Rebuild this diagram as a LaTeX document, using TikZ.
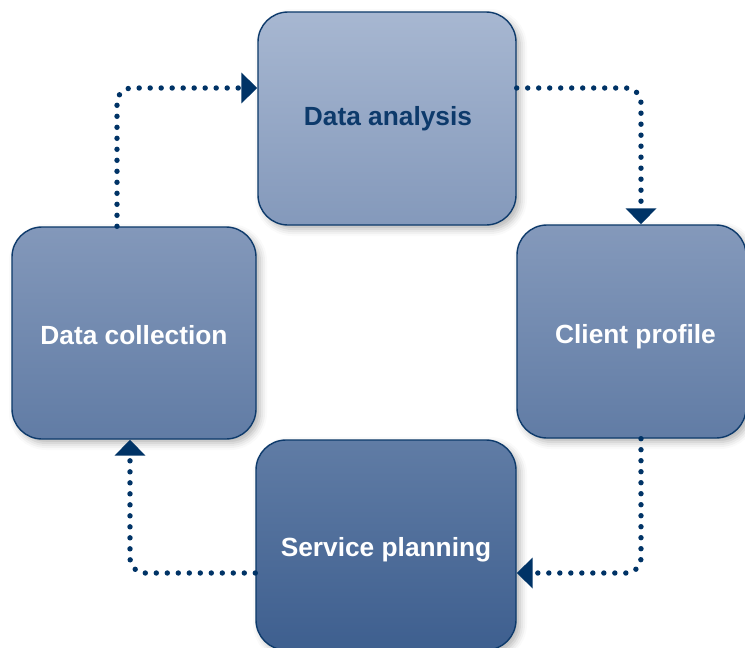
\documentclass[tikz,border=0pt]{standalone}
\usepackage{fontspec}
\setmainfont{Liberation Sans}
\usetikzlibrary{arrows.meta,shadows.blur}
\definecolor{navy}{HTML}{0D3A6B}
\definecolor{arrowc}{HTML}{003366}
\begin{document}
\begin{tikzpicture}[x=1pt,y=-1pt,
  box/.style={draw=navy, line width=1.4pt, rounded corners=30pt,
    minimum width=#1, inner sep=0pt,
    blur shadow={shadow xshift=4pt, shadow yshift=-4pt, shadow blur radius=7pt, shadow opacity=30}},
  lbl/.style={font=\fontsize{26.3}{30}\selectfont\bfseries, text=white, inner sep=0pt},
  conn/.style={draw=arrowc, line width=5.4pt, line cap=round,
    dash pattern=on 0pt off 11pt, rounded corners=15pt,
    -{Triangle[length=16pt,width=30pt]}}]
\useasboundingbox (0,0) rectangle (745,648);
\node[box=258pt, minimum height=213pt, top color={rgb,255:red,167;green,183;blue,209},
  bottom color={rgb,255:red,132;green,153;blue,187}] (da) at (387,118.5) {};
\node[box=229pt, minimum height=213pt, top color={rgb,255:red,132;green,153;blue,187},
  bottom color={rgb,255:red,97;green,124;blue,165}] (cp) at (631.5,331.5) {};
\node[box=244pt, minimum height=212pt, top color={rgb,255:red,131;green,152;blue,186},
  bottom color={rgb,255:red,97;green,124;blue,165}] (dc) at (134,333) {};
\node[box=260pt, minimum height=210pt, top color={rgb,255:red,96;green,124;blue,165},
  bottom color={rgb,255:red,62;green,95;blue,143}] (sp) at (386,545) {};
\node[lbl, text=navy] (tda) at (388,119) {Data analysis};
\node[lbl] (tcp) at (635.5,337) {Client profile};
\node[lbl] (tdc) at (134,335) {Data collection};
\node[lbl] (tsp) at (386,550) {Service planning};
\coordinate (p1) at (117,88);
\coordinate (p2) at (641,573);
\coordinate (p3) at (130,573);
\draw[conn] (dc.north -| p1) |- (da.west |- p1);
\draw[conn] (da.east |- p1) -| (cp.north -| p2);
\draw[conn] (cp.south -| p2) |- (sp.east |- p2);
\draw[conn] (sp.west |- p3) -| (dc.south -| p3);
\end{tikzpicture}
\end{document}
